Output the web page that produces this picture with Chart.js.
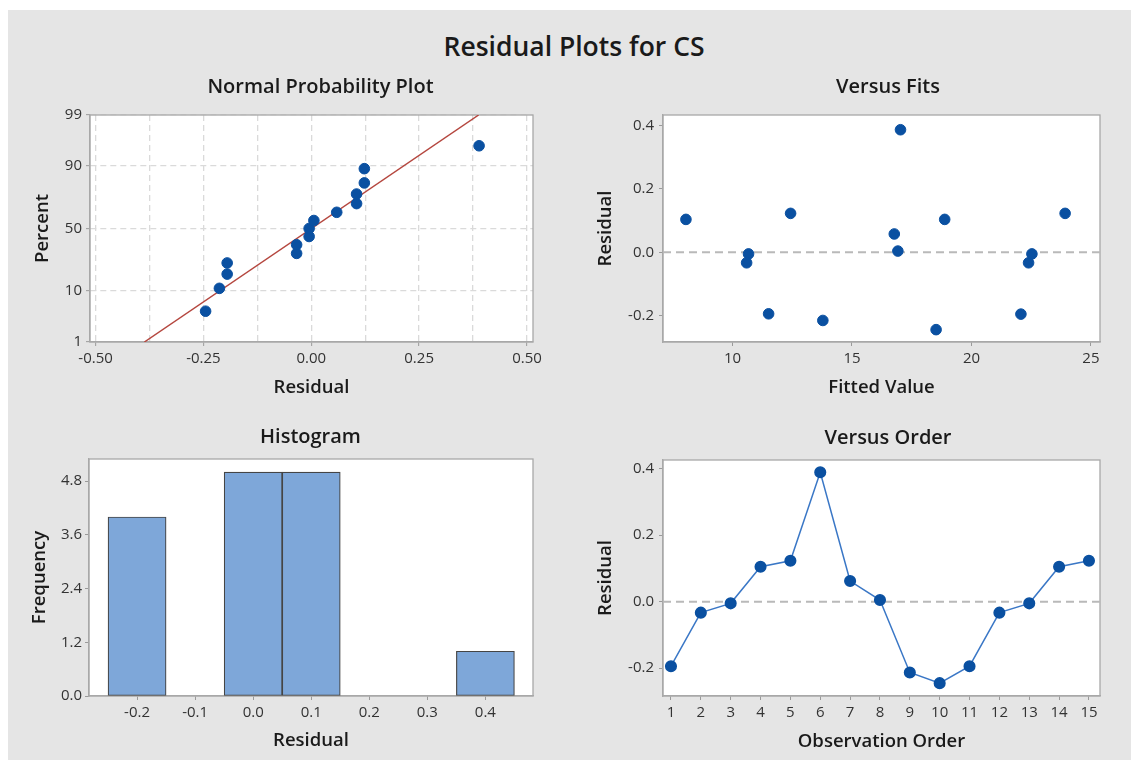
<!DOCTYPE html>
<html><head><meta charset="utf-8">
<script src="https://cdn.jsdelivr.net/npm/chart.js@4.4.1/dist/chart.umd.min.js"></script>
<style>
html,body{margin:0;padding:0;background:#fff;width:1131px;height:760px;overflow:hidden;}
#bg{position:absolute;left:8px;top:10px;width:1123px;height:750px;background:#e5e5e5;}
canvas{position:absolute;}
#title{position:absolute;left:0;width:1148px;text-align:center;top:33px;font-family:'Open Sans',sans-serif;font-weight:600;font-size:26.5px;line-height:26.5px;color:#1a1a1a;}
</style></head><body>
<div id="bg"></div>
<div id="title">Residual Plots for CS</div>
<canvas id="npp" width="565" height="345" style="left:0;top:60px"></canvas>
<canvas id="fits" width="556" height="345" style="left:575px;top:60px"></canvas>
<canvas id="hist" width="565" height="355" style="left:0;top:405px"></canvas>
<canvas id="order" width="556" height="355" style="left:575px;top:405px"></canvas>
<script>
// ---------- DATA ----------
const nppResidual = [-0.245,-0.213,-0.195,-0.195,-0.034,-0.034,-0.005,-0.005,0.006,0.059,0.105,0.105,0.123,0.123,0.389];
const nppPercent = [4.5,11.0,17.5,24.0,30.5,37.0,43.5,50.0,56.5,63.0,69.5,76.0,82.5,89.0,95.5];
const fitLineResidual = [-0.387, 0.388];
const fitLinePercent = [1, 99];
const nppPercentTicks = [1,10,50,90,99];
const nppResidualTicks = [-0.5,-0.25,0,0.25,0.5];

const fittedValues = [8.05,10.67,10.59,11.51,12.43,13.78,16.77,16.92,17.03,18.52,18.88,22.07,22.39,22.53,23.92];
const fitsResiduals = [0.104,-0.005,-0.033,-0.194,0.123,-0.215,0.058,0.004,0.387,-0.244,0.104,-0.195,-0.033,-0.005,0.123];
const fitsXTicks = [10,15,20,25];
const residualTicks = [-0.2,0,0.2,0.4];

const histMidpoints = [-0.2,-0.1,0.0,0.1,0.2,0.3,0.4];
const histFrequency = [4,0,5,5,0,0,1];
const histFreqTicks = [0,1.2,2.4,3.6,4.8];

const observationOrder = [1,2,3,4,5,6,7,8,9,10,11,12,13,14,15];
const orderResiduals = [-0.194,-0.033,-0.005,0.105,0.123,0.389,0.062,0.005,-0.213,-0.245,-0.194,-0.033,-0.005,0.105,0.123];
const referenceResidual = 0;

// ---------- helpers ----------
function probit(p){
  const a=[-3.969683028665376e+01,2.209460984245205e+02,-2.759285104469687e+02,1.383577518672690e+02,-3.066479806614716e+01,2.506628277459239e+00];
  const b=[-5.447609879822406e+01,1.615858368580409e+02,-1.556989798598866e+02,6.680131188771972e+01,-1.328068155288572e+01];
  const c=[-7.784894002430293e-03,-3.223964580411365e-01,-2.400758277161838e+00,-2.549732539343734e+00,4.374664141464968e+00,2.938163982698783e+00];
  const d=[7.784695709041462e-03,3.224671290700398e-01,2.445134137142996e+00,3.754408661907416e+00];
  const pl=0.02425, ph=1-pl; let q,r;
  if(p<pl){q=Math.sqrt(-2*Math.log(p));return (((((c[0]*q+c[1])*q+c[2])*q+c[3])*q+c[4])*q+c[5])/((((d[0]*q+d[1])*q+d[2])*q+d[3])*q+1);}
  if(p<=ph){q=p-0.5;r=q*q;return (((((a[0]*r+a[1])*r+a[2])*r+a[3])*r+a[4])*r+a[5])*q/(((((b[0]*r+b[1])*r+b[2])*r+b[3])*r+b[4])*r+1);}
  q=Math.sqrt(-2*Math.log(1-p));return -(((((c[0]*q+c[1])*q+c[2])*q+c[3])*q+c[4])*q+c[5])/((((d[0]*q+d[1])*q+d[2])*q+d[3])*q+1);
}
function normCdf(z){const t=1/(1+0.2316419*Math.abs(z));const dd=0.3989423*Math.exp(-z*z/2);let p=dd*t*(0.3193815+t*(-0.3565638+t*(1.781478+t*(-1.821256+t*1.330274))));return z>0?1-p:p;}

class ProbitScale extends Chart.LinearScale {
  determineDataLimits(){ this.min = probit(this.options.min/100); this.max = probit(this.options.max/100); }
  buildTicks(){ return (this.options.tickValues||[]).map(v=>({value:v})); }
  getPixelForValue(v){ return this.getPixelForDecimal((probit(v/100)-this._startValue)/this._valueRange); }
  getValueForPixel(px){ return 100*normCdf(this._startValue + this.getDecimalForPixel(px)*this._valueRange); }
}
ProbitScale.id = 'probit';
ProbitScale.defaults = { ticks: { callback: v => String(v) } };
Chart.register(ProbitScale);

const FONT = "'Open Sans', sans-serif";
Chart.defaults.font.family = FONT;
Chart.defaults.color = '#333';
Chart.defaults.animation = false;

const framePlugin = {
  id:'frame',
  beforeDraw(chart){ const {ctx, chartArea:a}=chart; ctx.save(); ctx.fillStyle='#fff'; ctx.fillRect(a.left,a.top,a.width,a.height); ctx.restore(); },
  beforeDatasetsDraw(chart){ const {ctx, chartArea:a}=chart; ctx.save(); ctx.setLineDash([]); ctx.strokeStyle='#a8a8a8'; ctx.lineWidth=1.3; ctx.strokeRect(a.left,a.top,a.width,a.height); ctx.restore(); }
};
const refLinePlugin = {
  id:'refLine',
  beforeDatasetsDraw(chart, args, opts){
    if(opts.value===undefined) return;
    const {ctx, chartArea:a}=chart; const y=chart.scales.y.getPixelForValue(opts.value);
    ctx.save(); ctx.strokeStyle='#b9b9b9'; ctx.lineWidth=2; ctx.setLineDash([8,5]);
    ctx.beginPath(); ctx.moveTo(a.left,y); ctx.lineTo(a.right,y); ctx.stroke(); ctx.restore();
  }
};
// panel title drawn above the plot area, centred with a small horizontal offset
const panelTitlePlugin = {
  id:'panelTitle',
  afterDraw(chart, args, opts){
    if(!opts.text) return;
    const {ctx, chartArea:a}=chart;
    ctx.save(); ctx.font = "600 20px " + FONT; ctx.fillStyle='#1a1a1a'; ctx.textAlign='center'; ctx.textBaseline='middle';
    ctx.fillText(opts.text, (a.left+a.right)/2 + (opts.dx||0), opts.y); ctx.restore();
  }
};

function axisTitle(text, padObj){
  return {display:true, text, color:'#1a1a1a', font:{family:FONT,size:18.5,weight:'600'}, padding:padObj};
}
const tickFont = {family:FONT, size:15};
function plainGrid(){ return {display:true, offset:false, drawOnChartArea:false, drawTicks:true, tickLength:4, tickColor:'#9a9a9a', tickWidth:1}; }
const borderOpt = {display:true, color:'#a8a8a8', width:1.3};
function setTicks(arr){ return s => { s.ticks = arr.map(v=>({value:v})); }; }

const BLUE = '#0a50a1';
const PLUGINS = [framePlugin, refLinePlugin, panelTitlePlugin];

// ---------- Normal Probability Plot ----------
const nppGridVals = [];
for(let i=0;i<nppResidualTicks.length;i++){ nppGridVals.push(nppResidualTicks[i]); if(i<nppResidualTicks.length-1) nppGridVals.push((nppResidualTicks[i]+nppResidualTicks[i+1])/2); }
const isLabeled = v => nppResidualTicks.some(t=>Math.abs(t-v)<1e-9);
const nppBorder = {display:true, color:'#a8a8a8', width:1.3, dash:[6,4]};
new Chart(document.getElementById('npp'), {
  type:'scatter',
  data:{ datasets:[
    { type:'line', data: fitLineResidual.map((x,i)=>({x, y:fitLinePercent[i]})), borderColor:'#b5473f', borderWidth:1.5, pointRadius:0, fill:false, order:2 },
    { data: nppResidual.map((x,i)=>({x, y:nppPercent[i]})), backgroundColor:BLUE, borderColor:BLUE, pointRadius:5.3, pointHoverRadius:5.3, order:1 }
  ]},
  options:{
    responsive:false, animation:false,
    layout:{padding:{left:0,right:32,top:55,bottom:0}},
    plugins:{ legend:{display:false}, tooltip:{enabled:false}, title:{display:false}, panelTitle:{text:'Normal Probability Plot', y:27, dx:9} },
    scales:{
      x:{ type:'linear', min:-0.513, max:0.514, afterBuildTicks:setTicks(nppGridVals),
          afterFit:s=>{s.height=63;},
          ticks:{ autoSkip:false, maxRotation:0, font:tickFont, padding:4, callback:v=> isLabeled(v) ? v.toFixed(2) : '' },
          grid:{ display:true, drawOnChartArea:true, color:'#dadada', lineWidth:1.3, tickLength:4,
                 tickColor: ctx => (ctx.tick && isLabeled(ctx.tick.value)) ? '#9a9a9a' : 'rgba(0,0,0,0)', tickBorderDash:[], tickWidth:1 },
          border: nppBorder,
          title: axisTitle('Residual',{top:0,bottom:5.9}) },
      y:{ type:'probit', min:1, max:99, tickValues:nppPercentTicks,
          afterFit:s=>{s.width=90;},
          ticks:{ autoSkip:false, font:tickFont, padding:4, callback:v=>String(v) },
          grid:{ display:true, drawOnChartArea:true, color:'#dadada', lineWidth:1.3, tickLength:4, tickColor:'#9a9a9a', tickBorderDash:[], tickWidth:1 },
          border: nppBorder,
          title: axisTitle('Percent',{top:31.4,bottom:0}) }
    }
  },
  plugins:PLUGINS
});

// ---------- Versus Fits ----------
new Chart(document.getElementById('fits'), {
  type:'scatter',
  data:{ datasets:[ { data: fittedValues.map((x,i)=>({x, y:fitsResiduals[i]})), backgroundColor:BLUE, borderColor:BLUE, pointRadius:5.3, pointHoverRadius:5.3 } ]},
  options:{
    responsive:false, animation:false,
    layout:{padding:{left:0,right:31,top:55,bottom:0}},
    plugins:{ legend:{display:false}, tooltip:{enabled:false}, title:{display:false}, panelTitle:{text:'Versus Fits', y:27, dx:6.5}, refLine:{value:referenceResidual} },
    scales:{
      x:{ type:'linear', min:7.09, max:25.38, afterBuildTicks:setTicks(fitsXTicks), afterFit:s=>{s.height=63;},
          ticks:{autoSkip:false, maxRotation:0, font:tickFont, padding:4, callback:v=>String(v)},
          grid: plainGrid(), border: borderOpt, title: axisTitle('Fitted Value',{top:0,bottom:5.9}) },
      y:{ type:'linear', min:-0.283, max:0.4335, afterBuildTicks:setTicks(residualTicks), afterFit:s=>{s.width=88;},
          ticks:{autoSkip:false, font:tickFont, padding:5, callback:v=>v.toFixed(1)},
          grid: plainGrid(), border: borderOpt, title: axisTitle('Residual',{top:19.9,bottom:0}) }
    }
  },
  plugins:PLUGINS
});

// ---------- Histogram ----------
new Chart(document.getElementById('hist'), {
  type:'bar',
  data:{ datasets:[ { data: histMidpoints.map((x,i)=>({x, y:histFrequency[i]})), backgroundColor:'#7ea7d9', borderColor:'#454545', borderWidth:1.2, borderSkipped:false, barPercentage:1, categoryPercentage:1 } ]},
  options:{
    responsive:false, animation:false,
    layout:{padding:{left:0,right:32,top:54,bottom:0}},
    plugins:{ legend:{display:false}, tooltip:{enabled:false}, title:{display:false}, panelTitle:{text:'Histogram', y:32, dx:-0.5} },
    scales:{
      x:{ type:'linear', offset:false, min:-0.2828, max:0.482, afterBuildTicks:setTicks(histMidpoints), afterFit:s=>{s.height=64;},
          ticks:{autoSkip:false, maxRotation:0, font:tickFont, padding:4, callback:v=>v.toFixed(1)},
          grid: plainGrid(), border: borderOpt, title: axisTitle('Residual',{top:0,bottom:7.9}) },
      y:{ type:'linear', min:0, max:5.295, afterBuildTicks:setTicks(histFreqTicks), afterFit:s=>{s.width=89;},
          ticks:{autoSkip:false, font:tickFont, padding:3, callback:v=>v.toFixed(1)},
          grid: plainGrid(), border: borderOpt, title: axisTitle('Frequency',{top:28.9,bottom:0}) }
    }
  },
  plugins:PLUGINS
});

// ---------- Versus Order ----------
new Chart(document.getElementById('order'), {
  type:'line',
  data:{ datasets:[ { data: observationOrder.map((x,i)=>({x, y:orderResiduals[i]})), borderColor:'#3a77c6', borderWidth:1.5, backgroundColor:BLUE, pointBackgroundColor:BLUE, pointBorderColor:BLUE, pointRadius:5.3, pointHoverRadius:5.3, fill:false, tension:0 } ]},
  options:{
    responsive:false, animation:false,
    layout:{padding:{left:0,right:31,top:55,bottom:0}},
    plugins:{ legend:{display:false}, tooltip:{enabled:false}, title:{display:false}, panelTitle:{text:'Versus Order', y:33, dx:6.5}, refLine:{value:referenceResidual} },
    scales:{
      x:{ type:'linear', min:0.733, max:15.37, afterBuildTicks:setTicks(observationOrder), afterFit:s=>{s.height=64;},
          ticks:{autoSkip:false, maxRotation:0, font:tickFont, padding:4, callback:v=>String(v)},
          grid: plainGrid(), border: borderOpt, title: axisTitle('Observation Order',{top:0,bottom:6.9}) },
      y:{ type:'linear', min:-0.2836, max:0.426, afterBuildTicks:setTicks(residualTicks), afterFit:s=>{s.width=88;},
          ticks:{autoSkip:false, font:tickFont, padding:5, callback:v=>v.toFixed(1)},
          grid: plainGrid(), border: borderOpt, title: axisTitle('Residual',{top:19.9,bottom:0}) }
    }
  },
  plugins:PLUGINS
});
</script>
</body></html>
